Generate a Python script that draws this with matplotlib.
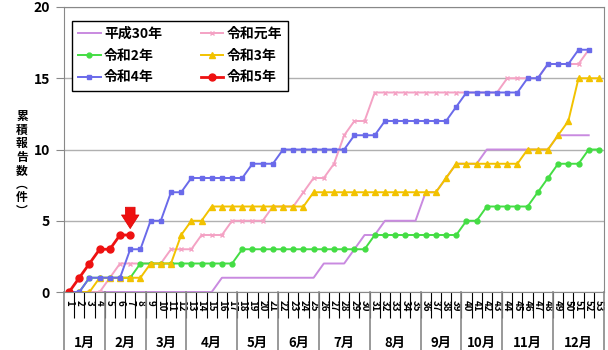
import numpy as np
import matplotlib
matplotlib.use('Agg')
import matplotlib.pyplot as plt
import matplotlib.transforms as mtransforms

plt.rcParams['font.family'] = ['Noto Sans CJK JP', 'DejaVu Sans']
plt.rcParams['font.weight'] = 'bold'

# cumulative report counts per week
h30 = [0, 0, 0, 0, 0, 0, 0, 0, 0, 0, 0, 0, 0, 0, 0,
       1, 1, 1, 1, 1, 1, 1, 1, 1, 1,
       2, 2, 2, 3, 4, 4, 5, 5, 5, 5, 7, 7, 8, 9, 9, 9,
       10, 10, 10, 10, 10, 10, 10, 11, 11, 11, 11]
r1 = [0, 0, 0, 0, 1, 2, 2, 2, 2, 2, 3, 3, 3, 4, 4, 4, 5, 5, 5, 5,
      6, 6, 6, 7, 8, 8, 9, 11, 12, 12,
      14, 14, 14, 14, 14, 14, 14, 14, 14, 14, 14, 14, 14,
      15, 15, 15, 15, 16, 16, 16, 16, 17]
r2 = [0, 0, 1, 1, 1, 1, 1, 2, 2, 2, 2, 2, 2, 2, 2, 2, 2,
      3, 3, 3, 3, 3, 3, 3, 3, 3, 3, 3, 3, 3,
      4, 4, 4, 4, 4, 4, 4, 4, 4, 5, 5, 6, 6, 6, 6, 6,
      7, 8, 9, 9, 9, 10, 10]
r3 = [0, 0, 0, 1, 1, 1, 1, 1, 2, 2, 2, 4, 5, 5,
      6, 6, 6, 6, 6, 6, 6, 6, 6, 6,
      7, 7, 7, 7, 7, 7, 7, 7, 7, 7, 7, 7, 7,
      8, 9, 9, 9, 9, 9, 9, 9, 10, 10, 10, 11, 12, 15, 15, 15]
r4 = [0, 0, 1, 1, 1, 1, 3, 3, 5, 5, 7, 7, 8, 8, 8, 8, 8, 8,
      9, 9, 9, 10, 10, 10, 10, 10, 10, 10, 11, 11, 11,
      12, 12, 12, 12, 12, 12, 12, 13, 14, 14, 14, 14, 14, 14,
      15, 15, 16, 16, 16, 17, 17]
r5 = [0, 1, 2, 3, 3, 4, 4]

series_names = ['平成30年', '令和元年', '令和2年', '令和3年', '令和4年', '令和5年']
months = ['1月', '2月', '3月', '4月', '5月', '6月',
          '7月', '8月', '9月', '10月', '11月', '12月']
weeks_in_month = [4, 4, 4, 5, 4, 4, 5, 5, 4, 4, 5, 5]

fig = plt.figure(figsize=(6.08, 3.5), dpi=100)
ax = fig.add_axes([64 / 608, 58 / 350, 540 / 608, 285 / 350])

styles = [
    dict(color='#c98ae0', lw=1.4, marker=None),
    dict(color='#f4a2c4', lw=1.4, marker='x', ms=3.5, mew=1.0),
    dict(color='#44dd44', lw=1.4, marker='o', ms=3.5),
    dict(color='#f2c200', lw=1.4, marker='^', ms=4.5),
    dict(color='#6a6aea', lw=1.4, marker='s', ms=3.5),
    dict(color='#ee1111', lw=2.0, marker='o', ms=5),
]
handles = []
for data, name, st in zip([h30, r1, r2, r3, r4, r5], series_names, styles):
    wk = np.arange(1, len(data) + 1)
    ln, = ax.plot(wk, data, label=name, **st)
    handles.append(ln)

ax.set_xlim(0.5, 53.5)
ax.set_ylim(0, 20)
ax.set_yticks([0, 5, 10, 15, 20])
ax.yaxis.grid(True, color='#b0b0b0', lw=1)
ax.set_axisbelow(True)
ax.tick_params(axis='y', length=6, color='#888888', labelsize=10, pad=4)
for sp in ax.spines.values():
    sp.set_color('#888888')

# week numbers under the axis, boundaries as long ticks
wk_all = np.arange(1, 54)
ax.set_xticks(wk_all)
ax.set_xticklabels([str(w) for w in wk_all], rotation=270, fontsize=7)
ax.tick_params(axis='x', which='major', length=0, pad=6)
ax.set_xticks(np.arange(1.5, 53.5, 1), minor=True)
ax.tick_params(axis='x', which='minor', length=19, width=0.8, color='black')

# month boxes
trans = mtransforms.blended_transform_factory(ax.transData, ax.transAxes)
edges = np.concatenate([[0.5], 0.5 + np.cumsum(weeks_in_month)])
for e in edges:
    ax.plot([e, e], [0, -0.21], transform=trans, color='#888888', lw=1.2, clip_on=False)
for m, a, b in zip(months, edges[:-1], edges[1:]):
    ax.text((a + b) / 2, -0.18, m, transform=trans, ha='center', va='center', fontsize=9.5)

# legend
order = [0, 2, 4, 1, 3, 5]
leg = ax.legend([handles[i] for i in order], [series_names[i] for i in order],
                ncol=2, loc='upper left', bbox_to_anchor=(0.015, 0.951),
                borderaxespad=0, fancybox=False, framealpha=1, edgecolor='black',
                fontsize=10, handlelength=1.6, handletextpad=0.25,
                columnspacing=2.8, labelspacing=0.55, borderpad=0.45)
leg.get_frame().set_linewidth(1.0)

# marker for the latest week
ax.annotate('', xy=(7, 4.45), xytext=(7, 5.95),
            arrowprops=dict(arrowstyle='simple,head_length=0.7,head_width=0.9,tail_width=0.5',
                            fc='#ee1111', ec='#dd0000', lw=0.5, mutation_scale=14,
                            shrinkA=0, shrinkB=0))

fig.text(22 / 608, 1 - 164 / 350, '\n'.join('累積報告数︵件︶'), ha='center', va='center',
         fontsize=8.5, linespacing=1.05)

fig.savefig('out.png', dpi=100)
